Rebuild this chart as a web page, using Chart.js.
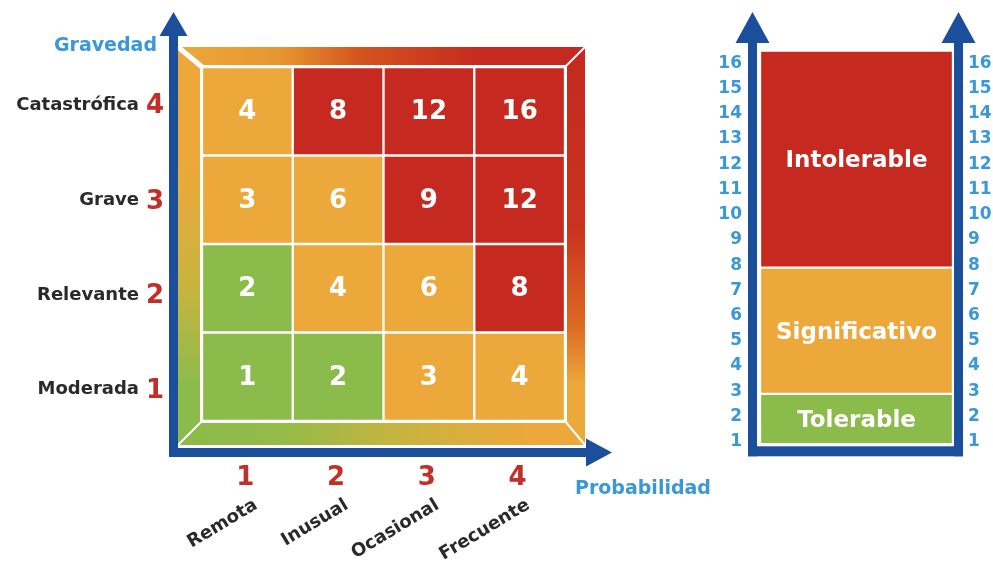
<!DOCTYPE html>
<html><head><meta charset="utf-8">
<script src="https://cdn.jsdelivr.net/npm/chart.js@4.4.1/dist/chart.umd.min.js"></script>
<style>
html,body{margin:0;padding:0;background:#fff;overflow:hidden}
#wrap{position:relative;width:993px;height:565px}
#c1{position:absolute;left:0;top:0}
#c2{position:absolute;left:690px;top:0}
</style></head><body>
<div id="wrap"><canvas id="c1" width="720" height="565"></canvas><canvas id="c2" width="303" height="565"></canvas></div>
<script>
// ---- data ----
const probabilidades = ['Remota', 'Inusual', 'Ocasional', 'Frecuente'];
const probNumeros = ['1', '2', '3', '4'];
const gravedades = ['Moderada', 'Relevante', 'Grave', 'Catastrófica'];
const gravNumeros = ['1', '2', '3', '4'];
const riesgoModerada = [1, 2, 3, 4];
const riesgoRelevante = [2, 4, 6, 8];
const riesgoGrave = [3, 6, 9, 12];
const riesgoCatastrofica = [4, 8, 12, 16];
const nivelNombres = ['Tolerable', 'Significativo', 'Intolerable'];
const nivelDesde = [0.9, 2.9, 7.9];
const nivelHasta = [2.9, 7.9, 16.5];
const nivelMaxRiesgo = [2, 6, 16];
const escalaTicks = [1, 2, 3, 4, 5, 6, 7, 8, 9, 10, 11, 12, 13, 14, 15, 16];

// ---- styles ----
const VERDE = '#8bbb4b', NARANJA = '#eca83a', ROJO = '#c5291f';
const nivelColores = [VERDE, NARANJA, ROJO];
const AZUL = '#1b4f9b', AZUL_CLARO = '#3a98d8', ROJO_TXT = '#c22f28';
const FONT = '"DejaVu Sans", Verdana, sans-serif';
function colorNivel(r) {
  for (let i = 0; i < nivelMaxRiesgo.length; i++) if (r <= nivelMaxRiesgo[i]) return nivelColores[i];
  return ROJO;
}
const riesgos = [riesgoModerada, riesgoRelevante, riesgoGrave, riesgoCatastrofica];
const etiquetaDesfase = [13, 7, 1, -6];

// ---- left: matrix ----
const marcoPlugin = {
  id: 'marco',
  beforeDatasetsDraw(chart) {
    const ctx = chart.ctx, a = chart.chartArea;
    const o = { l: a.left - 24, t: a.top - 20, r: a.right + 20, b: a.bottom + 24 };
    ctx.save();
    // top
    let g = ctx.createLinearGradient(o.l, 0, o.r, 0);
    g.addColorStop(0, NARANJA); g.addColorStop(0.25, '#e8962f'); g.addColorStop(0.45, '#d4531f'); g.addColorStop(0.75, ROJO); g.addColorStop(1, ROJO);
    ctx.fillStyle = g; ctx.beginPath();
    ctx.moveTo(o.l, o.t); ctx.lineTo(o.r, o.t); ctx.lineTo(a.right, a.top); ctx.lineTo(a.left, a.top); ctx.closePath(); ctx.fill();
    // right
    g = ctx.createLinearGradient(0, o.t, 0, o.b);
    g.addColorStop(0, ROJO); g.addColorStop(0.45, '#c9331f'); g.addColorStop(0.7, '#dc6a22'); g.addColorStop(0.85, NARANJA); g.addColorStop(1, NARANJA);
    ctx.fillStyle = g; ctx.beginPath();
    ctx.moveTo(o.r, o.t); ctx.lineTo(o.r, o.b); ctx.lineTo(a.right, a.bottom); ctx.lineTo(a.right, a.top); ctx.closePath(); ctx.fill();
    // bottom
    g = ctx.createLinearGradient(o.l, 0, o.r, 0);
    g.addColorStop(0, VERDE); g.addColorStop(0.25, '#93bb47'); g.addColorStop(0.55, '#c9b33f'); g.addColorStop(0.85, NARANJA); g.addColorStop(1, NARANJA);
    ctx.fillStyle = g; ctx.beginPath();
    ctx.moveTo(o.l, o.b); ctx.lineTo(o.r, o.b); ctx.lineTo(a.right, a.bottom); ctx.lineTo(a.left, a.bottom); ctx.closePath(); ctx.fill();
    // left
    g = ctx.createLinearGradient(0, o.t, 0, o.b);
    g.addColorStop(0, NARANJA); g.addColorStop(0.3, NARANJA); g.addColorStop(0.6, '#c9b33f'); g.addColorStop(0.85, VERDE); g.addColorStop(1, VERDE);
    ctx.fillStyle = g; ctx.beginPath();
    ctx.moveTo(o.l, o.t); ctx.lineTo(a.left, a.top); ctx.lineTo(a.left, a.bottom); ctx.lineTo(o.l, o.b); ctx.closePath(); ctx.fill();
    // white bevel lines
    ctx.strokeStyle = '#fff';
    ctx.lineWidth = 5; ctx.beginPath(); ctx.moveTo(o.l, o.t); ctx.lineTo(a.left, a.top); ctx.stroke();
    ctx.lineWidth = 2;
    ctx.beginPath(); ctx.moveTo(o.r, o.t); ctx.lineTo(a.right, a.top); ctx.stroke();
    ctx.beginPath(); ctx.moveTo(o.r, o.b); ctx.lineTo(a.right, a.bottom); ctx.stroke();
    ctx.beginPath(); ctx.moveTo(o.l, o.b); ctx.lineTo(a.left, a.bottom); ctx.stroke();
    ctx.lineWidth = 2; ctx.strokeRect(a.left - 1, a.top - 1, a.right - a.left + 2, a.bottom - a.top + 2);
    ctx.restore();
  },
  afterDatasetsDraw(chart) {
    const ctx = chart.ctx, a = chart.chartArea;
    ctx.save();
    // cell values
    ctx.fillStyle = '#fff'; ctx.font = 'bold 26px ' + FONT; ctx.textAlign = 'center'; ctx.textBaseline = 'middle';
    chart.data.datasets.forEach((ds, di) => {
      chart.getDatasetMeta(di).data.forEach((el, i) => {
        ctx.fillText(String(ds.riesgo[i]), el.x, (el.y + el.base) / 2 + 1);
      });
    });
    // axes arrows
    ctx.fillStyle = AZUL;
    const vx = a.left - 28.5, hy = a.bottom + 31.5;
    ctx.fillRect(vx - 4.5, 35, 9, hy + 4.5 - 35);
    ctx.beginPath(); ctx.moveTo(vx - 14, 36); ctx.lineTo(vx + 14, 36); ctx.lineTo(vx, 12); ctx.closePath(); ctx.fill();
    ctx.fillRect(vx - 4.5, hy - 4.5, a.right + 23 - (vx - 4.5), 9);
    ctx.beginPath(); ctx.moveTo(a.right + 21, hy - 14); ctx.lineTo(a.right + 21, hy + 14); ctx.lineTo(a.right + 47, hy); ctx.closePath(); ctx.fill();
    // y labels
    const ys = chart.scales.y, xs = chart.scales.x;
    gravedades.forEach((gname, i) => {
      const y = ys.getPixelForValue(i + 0.5) + etiquetaDesfase[i];
      ctx.textBaseline = 'middle';
      ctx.font = 'bold 18px ' + FONT; ctx.fillStyle = '#2a2a2a'; ctx.textAlign = 'right';
      ctx.fillText(gname, a.left - 63, y);
      ctx.font = 'bold 26px ' + FONT; ctx.fillStyle = ROJO_TXT; ctx.textAlign = 'center';
      ctx.fillText(gravNumeros[i], a.left - 47, y + 1);
    });
    ctx.font = 'bold 19px ' + FONT; ctx.fillStyle = AZUL_CLARO; ctx.textAlign = 'right'; ctx.textBaseline = 'middle';
    ctx.fillText('Gravedad', a.left - 45, 46);
    // x labels
    probabilidades.forEach((p, i) => {
      const x = xs.getPixelForValue(i);
      ctx.font = 'bold 26px ' + FONT; ctx.fillStyle = ROJO_TXT; ctx.textAlign = 'center'; ctx.textBaseline = 'middle';
      ctx.fillText(probNumeros[i], x - 2, a.bottom + 57);
      ctx.save();
      ctx.translate(x + 4, a.bottom + 75);
      ctx.rotate(-31 * Math.PI / 180);
      ctx.font = 'bold 18px ' + FONT; ctx.fillStyle = '#2a2a2a'; ctx.textAlign = 'right'; ctx.textBaseline = 'top';
      ctx.fillText(p, 0, 0);
      ctx.restore();
    });
    ctx.font = 'bold 19px ' + FONT; ctx.fillStyle = AZUL_CLARO; ctx.textAlign = 'left'; ctx.textBaseline = 'middle';
    ctx.fillText('Probabilidad', a.right + 10, a.bottom + 68);
    ctx.restore();
  }
};

new Chart(document.getElementById('c1'), {
  type: 'bar',
  data: {
    labels: probabilidades,
    datasets: gravedades.map((g, i) => ({
      label: g,
      data: probabilidades.map(() => 1),
      riesgo: riesgos[i],
      backgroundColor: riesgos[i].map(colorNivel),
      borderColor: '#ffffff',
      borderWidth: 1.5,
      borderSkipped: false,
      barPercentage: 1,
      categoryPercentage: 1
    }))
  },
  options: {
    responsive: false, animation: false, devicePixelRatio: 1,
    layout: { padding: { left: 202, top: 67, right: 155, bottom: 144 } },
    plugins: { legend: { display: false }, tooltip: { enabled: false } },
    scales: {
      x: { stacked: true, display: false },
      y: { stacked: true, display: false, min: 0, max: 4 }
    }
  },
  plugins: [marcoPlugin]
});

// ---- right: levels scale ----
const nivelPlugin = {
  id: 'nivel',
  afterDatasetsDraw(chart) {
    const ctx = chart.ctx, a = chart.chartArea;
    ctx.save();
    ctx.fillStyle = '#fff'; ctx.font = 'bold 23px ' + FONT; ctx.textAlign = 'center'; ctx.textBaseline = 'middle';
    chart.data.datasets.forEach((ds, di) => {
      const el = chart.getDatasetMeta(di).data[0];
      ctx.fillText(ds.label, el.x, (el.y + el.base) / 2 + 2);
    });
    // blue U with arrows
    ctx.fillStyle = AZUL;
    const lx = a.left - 7.5, rx = a.right + 5.5, by = chart.scales.y.getPixelForValue(nivelDesde[0]) + 7;
    const top = 42;
    ctx.fillRect(lx - 4.5, top, 9, by + 5 - top);
    ctx.fillRect(rx - 4.5, top, 9, by + 5 - top);
    ctx.fillRect(lx - 4.5, by - 5, rx - lx + 9, 10);
    [lx, rx].forEach(x => {
      ctx.beginPath(); ctx.moveTo(x - 17, top + 1); ctx.lineTo(x + 17, top + 1); ctx.lineTo(x, 12); ctx.closePath(); ctx.fill();
    });
    ctx.restore();
  }
};

const tickOpts = (pad) => ({
  color: AZUL_CLARO, font: { family: FONT, size: 17, weight: 'bold' }, padding: pad
});

new Chart(document.getElementById('c2'), {
  type: 'bar',
  data: {
    labels: ['Riesgo'],
    datasets: nivelNombres.map((n, i) => ({
      label: n,
      data: [[nivelDesde[i], nivelHasta[i]]],
      backgroundColor: nivelColores[i],
      borderColor: '#ffffff',
      borderWidth: 1.5,
      borderSkipped: false,
      barPercentage: 1,
      categoryPercentage: 1,
      grouped: false
    }))
  },
  options: {
    responsive: false, animation: false, devicePixelRatio: 1,
    layout: { padding: { left: 0, top: 38, right: 0, bottom: 98 } },
    plugins: { legend: { display: false }, tooltip: { enabled: false } },
    scales: {
      x: { display: false },
      y: {
        position: 'left', min: 0, max: 17,
        grid: { display: false, drawTicks: false }, border: { display: false },
        ticks: tickOpts(18),
        afterBuildTicks: s => { s.ticks = escalaTicks.map(v => ({ value: v })); },
        afterFit: s => { s.width = 70; }
      },
      y2: {
        position: 'right', min: 0, max: 17, display: true,
        grid: { display: false, drawTicks: false }, border: { display: false },
        ticks: tickOpts(15),
        afterBuildTicks: s => { s.ticks = escalaTicks.map(v => ({ value: v })); },
        afterFit: s => { s.width = 40; }
      }
    }
  },
  plugins: [nivelPlugin]
});
</script>
</body></html>
